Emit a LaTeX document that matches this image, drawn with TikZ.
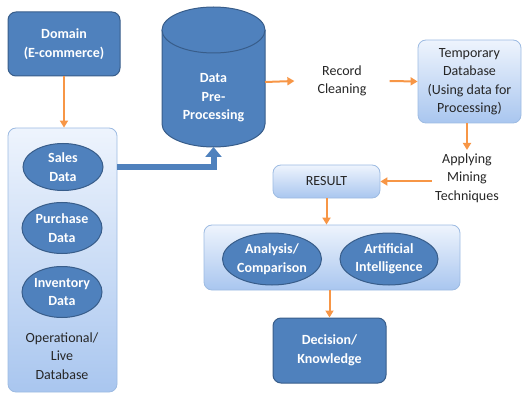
\documentclass[tikz,border=0pt]{standalone}
\usepackage{fontspec}
\setmainfont{Carlito}
\usetikzlibrary{shapes.geometric, arrows.meta}

\definecolor{darkblue}{HTML}{4F81BD}
\definecolor{darkline}{HTML}{385D8A}
\definecolor{litetop}{HTML}{EEF4FD}
\definecolor{litebot}{HTML}{A9C6EF}
\definecolor{liteline}{HTML}{9DBBE2}
\definecolor{flow}{HTML}{F79646}
\definecolor{inktext}{HTML}{262626}

\newcommand{\diagfont}{\fontsize{14}{18.5}\selectfont}

\tikzset{
  darkbox/.style={rectangle, rounded corners=8pt, fill=darkblue, draw=darkline, line width=1pt,
    text=white, font=\diagfont\bfseries, align=center},
  litebox/.style={rectangle, rounded corners=8pt, top color=litetop, bottom color=litebot,
    draw=liteline, line width=0.8pt, text=inktext, font=\diagfont, align=center},
  dataoval/.style={ellipse, fill=darkblue, draw=darkline, line width=1pt, text=white,
    font=\diagfont\bfseries, align=center, inner sep=0pt},
  plaintext/.style={text=inktext, font=\diagfont, align=center},
  flowarrow/.style={draw=flow, line width=2pt, -{Triangle[width=8pt,length=7pt]}},
  bigarrow/.style={draw=darkblue, line width=6pt, line join=miter,
    -{Triangle[width=16pt,length=10pt]}}
}

\begin{document}
\begin{tikzpicture}[x=1pt, y=-1pt]

    % Fix the page to the size of the picture
    \useasboundingbox (0,0) rectangle (523,396);

    % Domain box at the top left
    \node[darkbox, minimum width=112pt, minimum height=64pt] (domain) at (64,44) {Domain\\(E-commerce)};

    % Operational database box with its three data sets
    \node[litebox, minimum width=109pt, minimum height=264pt] (opbox) at (62.5,260) {};
    \node[dataoval, minimum width=80pt, minimum height=47pt] (sales) at (63,167) {Sales\\Data};
    \node[dataoval, minimum width=80pt, minimum height=51pt] (purchase) at (62,228) {Purchase\\Data};
    \node[dataoval, minimum width=80pt, minimum height=51pt] (inventory) at (62,292) {Inventory\\Data};
    \node[plaintext] (optext) at (62,356) {Operational/\\Live\\Database};

    % Cylinder for the pre-processing step
    \fill[darkblue] (162,30) -- (162,124) arc[start angle=180, end angle=0, x radius=51.5, y radius=23]
        -- (265,30) -- cycle;
    \draw[darkline, line width=1pt] (162,30) -- (162,124) arc[start angle=180, end angle=0, x radius=51.5, y radius=23]
        -- (265,30);
    \draw[darkline, line width=1pt, fill=darkblue] (213.5,30) ellipse[x radius=51.5, y radius=23];
    \node[text=white, font=\diagfont\bfseries, align=center] (prep) at (213.5,98) {Data\\Pre-\\Processing};
    \coordinate (prepE) at (265,82);       % right side of the cylinder
    \coordinate (prepS) at (213.5,147);    % bottom of the cylinder

    % Record cleaning step
    \node[plaintext, inner xsep=23pt] (record) at (342,81) {Record\\Cleaning};

    % Temporary database box
    \node[litebox, minimum width=103pt, minimum height=83pt, inner sep=1pt] (temp) at (469.5,81.5)
        {Temporary\\Database\\(Using data for\\Processing)};

    % Mining techniques step
    \node[plaintext] (apply) at (467,178) {Applying\\Mining\\Techniques};

    % Result box
    \node[litebox, minimum width=107pt, minimum height=33pt] (result) at (326.5,181.5) {RESULT};

    % Analysis box with its two ovals
    \node[litebox, minimum width=256pt, minimum height=65pt] (midbox) at (332,257.5) {};
    \node[dataoval, minimum width=99pt, minimum height=52pt] (analysis) at (272,259) {Analysis/\\Comparison};
    \node[dataoval, minimum width=98pt, minimum height=52pt] (ai) at (389,259) {Artificial\\Intelligence};

    % Decision box at the bottom
    \node[darkbox, minimum width=113pt, minimum height=65pt] (decision) at (329.5,350.5) {Decision/\\Knowledge};

    % Orange flow arrows
    \draw[flowarrow] (domain.south) -- (domain.south |- opbox.north);
    \draw[flowarrow] (prepE) -- (record.west);
    \draw[flowarrow] (record.east) -- (temp.west);
    \draw[flowarrow] (temp.south -| apply.north) -- (apply.north);
    \draw[flowarrow] (apply.west |- result.east) -- (result.east);
    \draw[flowarrow] (result.south) -- (result.south |- midbox.north);
    \draw[flowarrow] (decision.north |- midbox.south) -- (decision.north);

    % Thick arrow from the sales data to the cylinder
    \draw[bigarrow] (sales -| opbox.east) -| (prepS);

\end{tikzpicture}
\end{document}
